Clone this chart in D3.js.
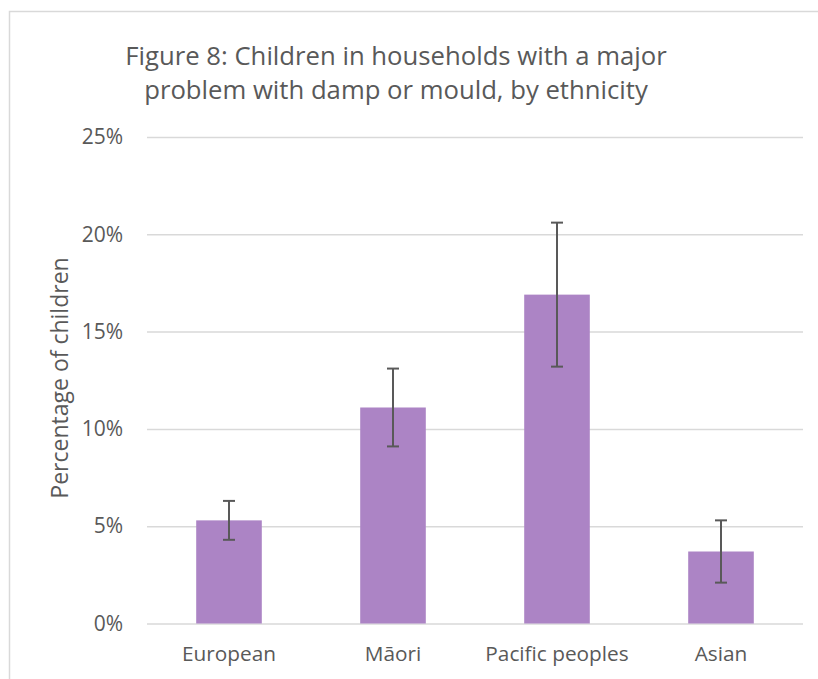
<!DOCTYPE html>
<html>
<head>
<meta charset="utf-8">
<script src="https://cdn.jsdelivr.net/npm/d3@7"></script>
<style>
  html, body { margin: 0; padding: 0; background: #fff; }
  svg { display: block; }
  text { font-family: "Open Sans", "Noto Sans", sans-serif; fill: #595959; }
</style>
</head>
<body>
<svg id="chart" width="818" height="679"></svg>
<script>
const titleLines = ["Figure 8: Children in households with a major", "problem with damp or mould, by ethnicity"];
const yAxisTitle = "Percentage of children";
const categories = ["European", "Māori", "Pacific peoples", "Asian"];
const values = [5.3, 11.1, 16.9, 3.7];
const errLow = [4.3, 9.1, 13.2, 2.1];
const errHigh = [6.3, 13.1, 20.6, 5.3];
const yTicks = [0, 5, 10, 15, 20, 25];

const svg = d3.select("#chart");
const W = 818, H = 679;
const margin = { left: 147, right: 15, top: 137, bottom: 55.5 };
const plotW = W - margin.left - margin.right;
const plotH = H - margin.top - margin.bottom;

// outer chart border
svg.append("rect")
  .attr("x", 9.5).attr("y", 11.5)
  .attr("width", 900).attr("height", 800)
  .attr("fill", "none").attr("stroke", "#d9d9d9").attr("stroke-width", 1.5);

const x = d3.scaleBand().domain(categories).range([0, plotW]).padding(0);
const y = d3.scaleLinear().domain([0, 25]).range([plotH, 0]);
const barW = x.bandwidth() * 0.4;

const g = svg.append("g").attr("transform", `translate(${margin.left},${margin.top})`);

// gridlines + y tick labels
const yAxis = d3.axisLeft(y).tickValues(yTicks).tickFormat(d => d + "%").tickSize(-plotW).tickPadding(24);
const ya = g.append("g").call(yAxis);
ya.select(".domain").remove();
ya.selectAll(".tick line").attr("stroke", "#d9d9d9").attr("stroke-width", 1.5);
ya.selectAll(".tick text").attr("fill", "#595959").style("font-size", "21px").style("font-family", "\"Open Sans\", sans-serif");

// bars
g.selectAll("rect.bar").data(categories).enter().append("rect")
  .attr("class", "bar")
  .attr("x", d => x(d) + (x.bandwidth() - barW) / 2)
  .attr("width", barW)
  .attr("y", (d, i) => y(values[i]))
  .attr("height", (d, i) => y(0) - y(values[i]))
  .attr("fill", "#ac84c5");

// x axis labels
const xa = g.append("g").attr("transform", `translate(0,${plotH})`)
  .call(d3.axisBottom(x).tickSize(0).tickPadding(23));
xa.select(".domain").remove();
xa.selectAll(".tick text").attr("fill", "#595959").style("font-size", "20.8px").style("font-family", "\"Open Sans\", sans-serif");

// error bars
const capW = 12;
const eb = g.selectAll("g.err").data(categories).enter().append("g").attr("class", "err");
eb.append("line")
  .attr("x1", d => x(d) + x.bandwidth() / 2).attr("x2", d => x(d) + x.bandwidth() / 2)
  .attr("y1", (d, i) => y(errLow[i])).attr("y2", (d, i) => y(errHigh[i]));
eb.append("line")
  .attr("x1", d => x(d) + x.bandwidth() / 2 - capW / 2).attr("x2", d => x(d) + x.bandwidth() / 2 + capW / 2)
  .attr("y1", (d, i) => y(errHigh[i])).attr("y2", (d, i) => y(errHigh[i]));
eb.append("line")
  .attr("x1", d => x(d) + x.bandwidth() / 2 - capW / 2).attr("x2", d => x(d) + x.bandwidth() / 2 + capW / 2)
  .attr("y1", (d, i) => y(errLow[i])).attr("y2", (d, i) => y(errLow[i]));
eb.selectAll("line").attr("stroke", "#595959").attr("stroke-width", 2);

// y axis title
svg.append("text")
  .attr("transform", "translate(68,378) rotate(-90)")
  .attr("text-anchor", "middle")
  .style("font-size", "23px")
  .text(yAxisTitle);

// chart title
svg.append("g").selectAll("text").data(titleLines).enter().append("text")
  .attr("x", 396)
  .attr("y", (d, i) => 64.5 + i * 34)
  .attr("text-anchor", "middle")
  .style("font-size", "25.7px")
  .text(d => d);
</script>
</body>
</html>
